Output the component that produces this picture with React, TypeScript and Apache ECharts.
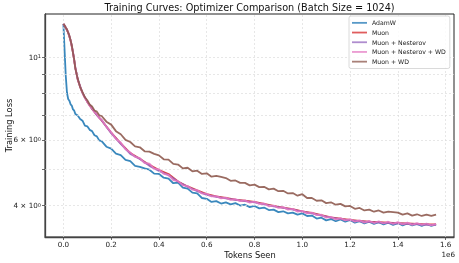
import React, { useEffect, useRef } from "react";
import * as echarts from "echarts";

const FONT = "DejaVu Sans";

// Tokens seen, in units of 1e6
const tokensFine = [
  0, 0.005, 0.01, 0.015, 0.02, 0.025, 0.03, 0.035, 0.04, 0.045,
  0.05, 0.06, 0.07, 0.08, 0.09, 0.1, 0.11, 0.12, 0.13, 0.14,
  0.15, 0.16, 0.18, 0.2, 0.22, 0.24, 0.26, 0.28, 0.3, 0.32,
  0.34, 0.36, 0.38, 0.4, 0.42, 0.44, 0.46, 0.48, 0.5, 0.52,
  0.54, 0.56, 0.58, 0.6, 0.62, 0.64, 0.66, 0.68, 0.7, 0.72,
  0.74, 0.76, 0.78, 0.8, 0.82, 0.84, 0.86, 0.88, 0.9, 0.92,
  0.94, 0.96, 0.98, 1.0, 1.02, 1.04, 1.06, 1.08, 1.1, 1.12,
  1.14, 1.16, 1.18, 1.2, 1.22, 1.24, 1.26, 1.28, 1.3, 1.32,
  1.34, 1.36, 1.38, 1.4, 1.42, 1.44, 1.46, 1.48, 1.5, 1.52,
  1.54, 1.56,
];

const tokensCoarse = [
  0, 0.01, 0.02, 0.03, 0.04, 0.05, 0.06, 0.08, 0.1, 0.12,
  0.14, 0.16, 0.2, 0.24, 0.28, 0.32, 0.36, 0.4, 0.44, 0.48,
  0.52, 0.56, 0.6, 0.64, 0.68, 0.72, 0.76, 0.8, 0.84, 0.88,
  0.92, 0.96, 1.0, 1.04, 1.08, 1.12, 1.16, 1.2, 1.24, 1.28,
  1.32, 1.36, 1.4, 1.44, 1.48, 1.52, 1.56,
];

const adamW = [
  12.27, 10.4, 8.88, 8.02, 7.72, 7.64, 7.47, 7.41, 7.24, 7.19,
  7.04, 6.97, 6.82, 6.75, 6.55, 6.52, 6.38, 6.33, 6.17, 6.13,
  5.98, 5.95, 5.75, 5.68, 5.51, 5.46, 5.3, 5.26, 5.11, 5.08,
  5.03, 4.99, 4.87, 4.86, 4.75, 4.72, 4.59, 4.61, 4.47, 4.44,
  4.33, 4.31, 4.19, 4.17, 4.09, 4.11, 4.05, 4.08, 4.03, 4.06,
  4.0, 4.02, 3.96, 3.99, 3.93, 3.95, 3.89, 3.9, 3.84, 3.86,
  3.81, 3.83, 3.78, 3.81, 3.75, 3.76, 3.69, 3.71, 3.65, 3.68,
  3.63, 3.67, 3.62, 3.66, 3.6, 3.63, 3.58, 3.62, 3.57, 3.61,
  3.56, 3.6, 3.55, 3.59, 3.54, 3.58, 3.54, 3.57, 3.53, 3.57,
  3.53, 3.56,
];

const muon = [
  12.27, 11.98, 11.62, 11.07, 10.29, 9.35, 8.7, 8.0, 7.58, 7.26,
  7.0, 6.76, 6.27, 5.87, 5.53, 5.34, 5.14, 4.98, 4.86, 4.64,
  4.5, 4.39, 4.29, 4.23, 4.19, 4.15, 4.12, 4.09, 4.04, 3.99,
  3.95, 3.91, 3.86, 3.82, 3.77, 3.72, 3.69, 3.66, 3.64, 3.62,
  3.61, 3.6, 3.59, 3.58, 3.57, 3.56, 3.56,
];

const muonNesterov = [
  12.27, 11.99, 11.64, 11.1, 10.32, 9.37, 8.72, 8.01, 7.59, 7.27,
  6.99, 6.77, 6.25, 5.85, 5.5, 5.33, 5.11, 4.95, 4.82, 4.63,
  4.49, 4.37, 4.27, 4.22, 4.18, 4.14, 4.11, 4.08, 4.03, 3.98,
  3.94, 3.9, 3.85, 3.81, 3.76, 3.71, 3.68, 3.65, 3.63, 3.61,
  3.6, 3.59, 3.58, 3.57, 3.56, 3.55, 3.55,
];

const muonNesterovWd = [
  12.27, 12.14, 11.99, 11.84, 11.63, 11.38, 11.09, 10.73, 10.31, 9.83,
  9.36, 8.71, 8.3, 8.02, 7.76, 7.6, 7.4, 7.3, 7.12, 7.03,
  6.86, 6.8, 6.5, 6.29, 6.03, 5.9, 5.66, 5.55, 5.4, 5.36,
  5.2, 5.18, 5.02, 5.0, 4.86, 4.83, 4.68, 4.65, 4.53, 4.51,
  4.41, 4.4, 4.31, 4.3, 4.23, 4.24, 4.18, 4.2, 4.14, 4.16,
  4.11, 4.13, 4.07, 4.1, 4.04, 4.05, 3.98, 4.0, 3.94, 3.96,
  3.9, 3.92, 3.85, 3.87, 3.81, 3.83, 3.77, 3.78, 3.71, 3.73,
  3.67, 3.7, 3.65, 3.68, 3.62, 3.65, 3.6, 3.64, 3.59, 3.63,
  3.58, 3.62, 3.57, 3.61, 3.56, 3.6, 3.55, 3.59, 3.55, 3.58,
  3.54, 3.57,
];

const muonWd = [
  12.27, 12.16, 11.98, 11.86, 11.62, 11.42, 11.08, 10.77, 10.28, 9.87,
  9.32, 8.74, 8.31, 8.05, 7.8, 7.66, 7.46, 7.37, 7.19, 7.14,
  6.98, 6.95, 6.71, 6.59, 6.33, 6.21, 6.0, 5.92, 5.76, 5.73,
  5.59, 5.58, 5.5, 5.45, 5.32, 5.31, 5.17, 5.15, 5.03, 5.05,
  4.94, 4.96, 4.86, 4.88, 4.78, 4.8, 4.77, 4.74, 4.66, 4.67,
  4.6, 4.6, 4.53, 4.55, 4.48, 4.49, 4.42, 4.44, 4.37, 4.38,
  4.31, 4.32, 4.25, 4.29, 4.19, 4.19, 4.12, 4.13, 4.06, 4.08,
  4.02, 4.04, 3.98, 3.99, 3.92, 3.94, 3.88, 3.9, 3.85, 3.88,
  3.83, 3.85, 3.84, 3.83, 3.78, 3.81, 3.76, 3.79, 3.75, 3.78,
  3.75, 3.78,
];

const seriesNames = ["AdamW", "Muon", "Muon + Nesterov", "Muon + Nesterov + WD", "Muon + WD"];
const seriesColors = ["#1f77b4", "#d62728", "#9467bd", "#e377c2", "#8c564b"];
const xTicks = [0, 0.2, 0.4, 0.6, 0.8, 1.0, 1.2, 1.4, 1.6];
const yTicks = [4, 5, 6, 7, 8, 9, 10];
const yLabels = [4, 6, 10];

const zip = (xs: number[], ys: number[]) => xs.map((x, i) => [x, ys[i]]);

export default function App() {
  const ref = useRef<HTMLDivElement>(null);
  useEffect(() => {
    if (!ref.current) return;
    const chart = echarts.init(ref.current, null, { renderer: "svg" });
    const seriesData = [
      zip(tokensFine, adamW),
      zip(tokensCoarse, muon),
      zip(tokensCoarse, muonNesterov),
      zip(tokensFine, muonNesterovWd),
      zip(tokensFine, muonWd),
    ];
    const gridLineStyle = { color: "#dddddd", type: [2, 2], width: 0.7 };
    chart.setOption({
      animation: false,
      textStyle: { fontFamily: FONT },
      grid: {
        left: 45,
        right: 5,
        top: 14,
        bottom: 26,
        show: true,
        borderColor: "#222",
        borderWidth: 1,
        backgroundColor: "transparent",
        containLabel: false,
        outerBoundsMode: "none",
      },
      xAxis: {
        type: "value",
        min: -0.077,
        max: 1.635,
        axisLine: { show: true, onZero: false, lineStyle: { color: "#444", width: 1.3 } },
        axisTick: { show: true, length: 3, lineStyle: { color: "#444", width: 0.8 }, customValues: xTicks },
        axisLabel: {
          customValues: xTicks,
          fontSize: 7.2,
          color: "#222",
          margin: 4,
          fontFamily: FONT,
          formatter: (v: number) => v.toFixed(1),
        },
        splitLine: { show: false },
      },
      yAxis: {
        type: "log",
        logBase: 10,
        min: 3.294,
        max: 13.04,
        axisLine: { show: true, onZero: false, lineStyle: { color: "#444", width: 1.3 } },
        axisTick: { show: true, length: 3, lineStyle: { color: "#444", width: 0.8 }, customValues: yTicks },
        axisLabel: {
          customValues: yLabels,
          fontSize: 7.2,
          color: "#222",
          margin: 4,
          fontFamily: FONT,
          formatter: (v: number) => (v === 10 ? "10{s|1}" : `${v} × 10{s|0}`),
          rich: {
            s: { fontSize: 5, verticalAlign: "top", lineHeight: 6, padding: [0, 0, 4, 0], fontFamily: FONT, color: "#222" },
          },
        },
        splitLine: { show: false },
      },
      legend: {
        orient: "vertical",
        left: 349,
        top: 16,
        icon: "rect",
        itemWidth: 15,
        itemHeight: 1.8,
        itemGap: 2,
        padding: [3, 4, 3, 3],
        backgroundColor: "rgba(255,255,255,0.85)",
        borderColor: "#d0d0d0",
        borderWidth: 0.8,
        borderRadius: 2,
        textStyle: { fontSize: 6.2, color: "#222", lineHeight: 7.7, fontFamily: FONT },
        data: seriesNames,
        z: 20,
      },
      graphic: [
        {
          type: "text",
          x: 249.5,
          y: 7,
          style: {
            text: "Training Curves: Optimizer Comparison (Batch Size = 1024)",
            fontSize: 9.7,
            fontFamily: FONT,
            fill: "#111",
            textAlign: "center",
            textVerticalAlign: "middle",
          },
        },
        {
          type: "text",
          x: 250,
          y: 255,
          style: {
            text: "Tokens Seen",
            fontSize: 8.3,
            fontFamily: FONT,
            fill: "#111",
            textAlign: "center",
            textVerticalAlign: "middle",
          },
        },
        {
          type: "text",
          x: 8.5,
          y: 125.5,
          rotation: Math.PI / 2,
          style: {
            text: "Training Loss",
            fontSize: 8.3,
            fontFamily: FONT,
            fill: "#111",
            textAlign: "center",
            textVerticalAlign: "middle",
          },
        },
        {
          type: "text",
          x: 455,
          y: 254,
          style: {
            text: "1e6",
            fontSize: 7.2,
            fontFamily: FONT,
            fill: "#222",
            textAlign: "right",
            textVerticalAlign: "middle",
          },
        },
      ],
      series: [
        {
          name: "grid",
          type: "line",
          data: [],
          silent: true,
          z: 1,
          markLine: {
            silent: true,
            symbol: "none",
            label: { show: false },
            lineStyle: gridLineStyle,
            data: [
              ...xTicks.map((v) => ({ xAxis: v })),
              ...yTicks.map((v) => ({ yAxis: v })),
            ],
          },
        },
        ...seriesNames.map((name, i) => ({
          name,
          type: "line",
          data: seriesData[i],
          showSymbol: false,
          symbol: "none",
          color: seriesColors[i],
          lineStyle: { width: 1.8, color: seriesColors[i], opacity: 0.88 },
          itemStyle: { color: seriesColors[i], opacity: 0.75 },
          z: 2 + i,
        })),
      ],
    });
    return () => chart.dispose();
  }, []);
  return <div ref={ref} style={{ position: "fixed", left: 0, top: 0, width: 459, height: 263 }} />;
}
